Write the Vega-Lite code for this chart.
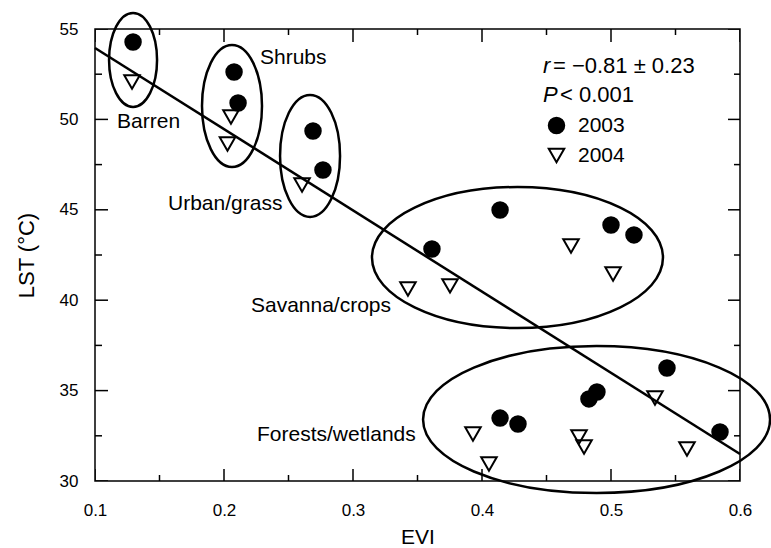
{
  "$schema": "https://vega.github.io/schema/vega-lite/v6.json",
  "autosize": {"type": "none"},
  "width": 645,
  "height": 452,
  "padding": {"left": 95, "top": 29, "right": 31, "bottom": 67},
  "background": "white",
  "config": {
    "view": {"stroke": "black", "strokeWidth": 1.5},
    "font": "Liberation Sans",
    "axis": {"labelFont": "Liberation Sans", "titleFont": "Liberation Sans", "titleFontWeight": "normal", "labelColor": "black", "titleColor": "black", "grid": false, "domainColor": "black"}
  },
  "resolve": {"axis": {"x": "independent", "y": "independent"}},
  "datasets": {
    "pts": [
      {"year": "2003", "evi": 0.1295, "lst": 54.28},
      {"year": "2003", "evi": 0.2078, "lst": 52.62},
      {"year": "2003", "evi": 0.2109, "lst": 50.91},
      {"year": "2003", "evi": 0.2690, "lst": 49.36},
      {"year": "2003", "evi": 0.2767, "lst": 47.20},
      {"year": "2003", "evi": 0.3612, "lst": 42.83},
      {"year": "2003", "evi": 0.4140, "lst": 44.99},
      {"year": "2003", "evi": 0.5000, "lst": 44.16},
      {"year": "2003", "evi": 0.5178, "lst": 43.61},
      {"year": "2003", "evi": 0.5434, "lst": 36.25},
      {"year": "2003", "evi": 0.4891, "lst": 34.92},
      {"year": "2003", "evi": 0.4829, "lst": 34.54},
      {"year": "2003", "evi": 0.4140, "lst": 33.48},
      {"year": "2003", "evi": 0.4279, "lst": 33.15},
      {"year": "2003", "evi": 0.5845, "lst": 32.71},
      {"year": "2004", "evi": 0.1287, "lst": 52.07},
      {"year": "2004", "evi": 0.2054, "lst": 50.13},
      {"year": "2004", "evi": 0.2027, "lst": 48.64},
      {"year": "2004", "evi": 0.2605, "lst": 46.37},
      {"year": "2004", "evi": 0.3426, "lst": 40.62},
      {"year": "2004", "evi": 0.3752, "lst": 40.79},
      {"year": "2004", "evi": 0.4690, "lst": 43.00},
      {"year": "2004", "evi": 0.5016, "lst": 41.45},
      {"year": "2004", "evi": 0.5341, "lst": 34.59},
      {"year": "2004", "evi": 0.3930, "lst": 32.60},
      {"year": "2004", "evi": 0.4054, "lst": 30.94},
      {"year": "2004", "evi": 0.4752, "lst": 32.43},
      {"year": "2004", "evi": 0.4791, "lst": 31.88},
      {"year": "2004", "evi": 0.5589, "lst": 31.77}
    ],
    "ell": [
      {"group": "Barren", "evi": 0.1295, "lst": 53.29},
      {"group": "Shrubs", "evi": 0.2062, "lst": 50.74},
      {"group": "Urban/grass", "evi": 0.2667, "lst": 47.98},
      {"group": "Savanna/crops", "evi": 0.4275, "lst": 42.36},
      {"group": "Forests/wetlands", "evi": 0.4888, "lst": 33.40}
    ],
    "fit": [
      {"evi": 0.1, "lst": 53.95},
      {"evi": 0.6, "lst": 31.49}
    ],
    "lbl": [
      {"label": "Barren", "evi": 0.1171, "lst": 49.83},
      {"label": "Shrubs", "evi": 0.2279, "lst": 53.40},
      {"label": "Urban/grass", "evi": 0.1566, "lst": 45.32},
      {"label": "Savanna/crops", "evi": 0.2209, "lst": 39.68},
      {"label": "Forests/wetlands", "evi": 0.2256, "lst": 32.52}
    ],
    "statItalic": [
      {"t": "r", "evi": 0.4473, "lst": 52.95},
      {"t": "P", "evi": 0.4473, "lst": 51.35}
    ],
    "statRest": [
      {"t": "= −0.81 ± 0.23", "evi": 0.4550, "lst": 52.95},
      {"t": "< 0.001", "evi": 0.4605, "lst": 51.35}
    ],
    "xMajor": [{"v": 0.1}, {"v": 0.2}, {"v": 0.3}, {"v": 0.4}, {"v": 0.5}, {"v": 0.6}],
    "xMinor": [{"v": 0.15}, {"v": 0.25}, {"v": 0.35}, {"v": 0.45}, {"v": 0.55}],
    "yMajor": [{"v": 30}, {"v": 35}, {"v": 40}, {"v": 45}, {"v": 50}, {"v": 55}],
    "yMinor": [{"v": 32.5}, {"v": 37.5}, {"v": 42.5}, {"v": 47.5}, {"v": 52.5}]
  },
  "layer": [
    {
      "data": {"name": "xMajor"},
      "mark": {"type": "tick", "orient": "vertical", "size": 24, "thickness": 1.5, "color": "black", "opacity": 1, "clip": true},
      "encoding": {
        "x": {"field": "v", "type": "quantitative", "scale": {"domain": [0.1, 0.6], "nice": false, "zero": false}, "axis": null},
        "y": {"datum": 30, "type": "quantitative", "scale": {"domain": [30, 55], "nice": false, "zero": false}, "axis": null}
      }
    },
    {
      "data": {"name": "xMajor"},
      "mark": {"type": "tick", "orient": "vertical", "size": 26, "thickness": 1.5, "color": "black", "opacity": 1, "clip": true},
      "encoding": {
        "x": {"field": "v", "type": "quantitative", "scale": {"domain": [0.1, 0.6], "nice": false, "zero": false}, "axis": null},
        "y": {"datum": 55, "type": "quantitative", "scale": {"domain": [30, 55], "nice": false, "zero": false}, "axis": null}
      }
    },
    {
      "data": {"name": "xMinor"},
      "mark": {"type": "tick", "orient": "vertical", "size": 12, "thickness": 1.5, "color": "black", "opacity": 1, "clip": true},
      "encoding": {
        "x": {"field": "v", "type": "quantitative", "scale": {"domain": [0.1, 0.6], "nice": false, "zero": false}, "axis": null},
        "y": {"datum": 30, "type": "quantitative", "scale": {"domain": [30, 55], "nice": false, "zero": false}, "axis": null}
      }
    },
    {
      "data": {"name": "xMinor"},
      "mark": {"type": "tick", "orient": "vertical", "size": 12, "thickness": 1.5, "color": "black", "opacity": 1, "clip": true},
      "encoding": {
        "x": {"field": "v", "type": "quantitative", "scale": {"domain": [0.1, 0.6], "nice": false, "zero": false}, "axis": null},
        "y": {"datum": 55, "type": "quantitative", "scale": {"domain": [30, 55], "nice": false, "zero": false}, "axis": null}
      }
    },
    {
      "data": {"name": "yMajor"},
      "mark": {"type": "tick", "orient": "horizontal", "size": 26, "thickness": 1.5, "color": "black", "opacity": 1, "clip": true},
      "encoding": {
        "y": {"field": "v", "type": "quantitative", "scale": {"domain": [30, 55], "nice": false, "zero": false}, "axis": null},
        "x": {"datum": 0.1, "type": "quantitative", "scale": {"domain": [0.1, 0.6], "nice": false, "zero": false}, "axis": null}
      }
    },
    {
      "data": {"name": "yMajor"},
      "mark": {"type": "tick", "orient": "horizontal", "size": 24, "thickness": 1.5, "color": "black", "opacity": 1, "clip": true},
      "encoding": {
        "y": {"field": "v", "type": "quantitative", "scale": {"domain": [30, 55], "nice": false, "zero": false}, "axis": null},
        "x": {"datum": 0.6, "type": "quantitative", "scale": {"domain": [0.1, 0.6], "nice": false, "zero": false}, "axis": null}
      }
    },
    {
      "data": {"name": "yMinor"},
      "mark": {"type": "tick", "orient": "horizontal", "size": 14, "thickness": 1.5, "color": "black", "opacity": 1, "clip": true},
      "encoding": {
        "y": {"field": "v", "type": "quantitative", "scale": {"domain": [30, 55], "nice": false, "zero": false}, "axis": null},
        "x": {"datum": 0.1, "type": "quantitative", "scale": {"domain": [0.1, 0.6], "nice": false, "zero": false}, "axis": null}
      }
    },
    {
      "data": {"name": "yMinor"},
      "mark": {"type": "tick", "orient": "horizontal", "size": 12, "thickness": 1.5, "color": "black", "opacity": 1, "clip": true},
      "encoding": {
        "y": {"field": "v", "type": "quantitative", "scale": {"domain": [30, 55], "nice": false, "zero": false}, "axis": null},
        "x": {"datum": 0.6, "type": "quantitative", "scale": {"domain": [0.1, 0.6], "nice": false, "zero": false}, "axis": null}
      }
    },
    {
      "data": {"name": "ell"},
      "transform": [{"filter": "datum.group == 'Barren'"}],
      "mark": {"type": "point", "filled": false, "opacity": 1, "stroke": "black", "strokeWidth": 2.5, "size": 8836,
        "shape": "M 0.5106 0 C 0.5106 0.5523 0.282 1 0 1 C -0.282 1 -0.5106 0.5523 -0.5106 0 C -0.5106 -0.5523 -0.282 -1 0 -1 C 0.282 -1 0.5106 -0.5523 0.5106 0 Z"},
      "encoding": {
        "x": {"field": "evi", "type": "quantitative", "scale": {"domain": [0.1, 0.6], "nice": false, "zero": false}, "axis": null},
        "y": {"field": "lst", "type": "quantitative", "scale": {"domain": [30, 55], "nice": false, "zero": false}, "axis": null}
      }
    },
    {
      "data": {"name": "ell"},
      "transform": [{"filter": "datum.group == 'Shrubs' || datum.group == 'Urban/grass'"}],
      "mark": {"type": "point", "filled": false, "opacity": 1, "stroke": "black", "strokeWidth": 2.5, "size": 14884,
        "shape": "M 0.4918 0 C 0.4918 0.5523 0.2716 1 0 1 C -0.2716 1 -0.4918 0.5523 -0.4918 0 C -0.4918 -0.5523 -0.2716 -1 0 -1 C 0.2716 -1 0.4918 -0.5523 0.4918 0 Z"},
      "encoding": {
        "x": {"field": "evi", "type": "quantitative", "scale": {"domain": [0.1, 0.6], "nice": false, "zero": false}, "axis": null},
        "y": {"field": "lst", "type": "quantitative", "scale": {"domain": [30, 55], "nice": false, "zero": false}, "axis": null}
      }
    },
    {
      "data": {"name": "ell"},
      "transform": [{"filter": "datum.group == 'Savanna/crops'"}],
      "mark": {"type": "point", "filled": false, "opacity": 1, "stroke": "black", "strokeWidth": 2.5, "size": 84681,
        "shape": "M 1 0 C 1 0.2676 0.5523 0.4845 0 0.4845 C -0.5523 0.4845 -1 0.2676 -1 0 C -1 -0.2676 -0.5523 -0.4845 0 -0.4845 C 0.5523 -0.4845 1 -0.2676 1 0 Z"},
      "encoding": {
        "x": {"field": "evi", "type": "quantitative", "scale": {"domain": [0.1, 0.6], "nice": false, "zero": false}, "axis": null},
        "y": {"field": "lst", "type": "quantitative", "scale": {"domain": [30, 55], "nice": false, "zero": false}, "axis": null}
      }
    },
    {
      "data": {"name": "ell"},
      "transform": [{"filter": "datum.group == 'Forests/wetlands'"}],
      "mark": {"type": "point", "filled": false, "opacity": 1, "stroke": "black", "strokeWidth": 2.5, "size": 120409,
        "shape": "M 1 0 C 1 0.234 0.5523 0.4236 0 0.4236 C -0.5523 0.4236 -1 0.234 -1 0 C -1 -0.234 -0.5523 -0.4236 0 -0.4236 C 0.5523 -0.4236 1 -0.234 1 0 Z"},
      "encoding": {
        "x": {"field": "evi", "type": "quantitative", "scale": {"domain": [0.1, 0.6], "nice": false, "zero": false}, "axis": null},
        "y": {"field": "lst", "type": "quantitative", "scale": {"domain": [30, 55], "nice": false, "zero": false}, "axis": null}
      }
    },
    {
      "data": {"name": "fit"},
      "mark": {"type": "line", "color": "black", "strokeWidth": 2.5},
      "encoding": {
        "x": {"field": "evi", "type": "quantitative", "scale": {"domain": [0.1, 0.6], "nice": false, "zero": false}, "axis": null},
        "y": {"field": "lst", "type": "quantitative", "scale": {"domain": [30, 55], "nice": false, "zero": false}, "axis": null}
      }
    },
    {
      "data": {"name": "pts"},
      "mark": {"type": "point", "filled": true, "opacity": 1, "strokeWidth": 2, "size": 240},
      "encoding": {
        "x": {"field": "evi", "type": "quantitative", "scale": {"domain": [0.1, 0.6], "nice": false, "zero": false},
          "axis": {"orient": "bottom", "title": "EVI", "titleFontSize": 21, "titlePadding": 8, "values": [0.1, 0.2, 0.3, 0.4, 0.5, 0.6], "format": ".1f",
            "labelFontSize": 17, "labelPadding": 21, "labelOverlap": false, "labelFlush": false,
            "ticks": false, "domain": false}},
        "y": {"field": "lst", "type": "quantitative", "scale": {"domain": [30, 55], "nice": false, "zero": false},
          "axis": {"orient": "left", "title": "LST (°C)", "titleFontSize": 22, "titlePadding": 21, "values": [30, 35, 40, 45, 50, 55], "format": "d",
            "labelFontSize": 17, "labelPadding": 17, "labelOverlap": false, "labelFlush": false,
            "ticks": false, "domain": false}},
        "shape": {"field": "year", "type": "nominal", "scale": {"domain": ["2003", "2004"], "range": ["circle", "triangle-down"]},
          "legend": {"title": null, "orient": "none", "legendX": 451, "legendY": 86, "labelFontSize": 21, "labelFont": "Liberation Sans", "labelColor": "black", "symbolSize": 240, "symbolStrokeWidth": 2, "labelOffset": 11, "rowPadding": 6}},
        "fill": {"field": "year", "type": "nominal", "scale": {"domain": ["2003", "2004"], "range": ["black", "transparent"]},
          "legend": {"title": null, "orient": "none", "legendX": 451, "legendY": 86, "labelFontSize": 21, "labelFont": "Liberation Sans", "labelColor": "black", "symbolSize": 240, "symbolStrokeWidth": 2, "labelOffset": 11, "rowPadding": 6}},
        "stroke": {"field": "year", "type": "nominal", "scale": {"domain": ["2003", "2004"], "range": ["black", "black"]},
          "legend": {"title": null, "orient": "none", "legendX": 451, "legendY": 86, "labelFontSize": 21, "labelFont": "Liberation Sans", "labelColor": "black", "symbolSize": 240, "symbolStrokeWidth": 2, "labelOffset": 11, "rowPadding": 6}}
      }
    },
    {
      "data": {"name": "lbl"},
      "mark": {"type": "text", "align": "left", "baseline": "middle", "fontSize": 21, "font": "Liberation Sans", "color": "black"},
      "encoding": {
        "x": {"field": "evi", "type": "quantitative", "scale": {"domain": [0.1, 0.6], "nice": false, "zero": false}, "axis": null},
        "y": {"field": "lst", "type": "quantitative", "scale": {"domain": [30, 55], "nice": false, "zero": false}, "axis": null},
        "text": {"field": "label"}
      }
    },
    {
      "data": {"name": "statItalic"},
      "mark": {"type": "text", "align": "left", "baseline": "middle", "fontSize": 22, "fontStyle": "italic", "font": "Liberation Sans", "color": "black"},
      "encoding": {
        "x": {"field": "evi", "type": "quantitative", "scale": {"domain": [0.1, 0.6], "nice": false, "zero": false}, "axis": null},
        "y": {"field": "lst", "type": "quantitative", "scale": {"domain": [30, 55], "nice": false, "zero": false}, "axis": null},
        "text": {"field": "t"}
      }
    },
    {
      "data": {"name": "statRest"},
      "mark": {"type": "text", "align": "left", "baseline": "middle", "fontSize": 22, "font": "Liberation Sans", "color": "black"},
      "encoding": {
        "x": {"field": "evi", "type": "quantitative", "scale": {"domain": [0.1, 0.6], "nice": false, "zero": false}, "axis": null},
        "y": {"field": "lst", "type": "quantitative", "scale": {"domain": [30, 55], "nice": false, "zero": false}, "axis": null},
        "text": {"field": "t"}
      }
    }
  ]
}
